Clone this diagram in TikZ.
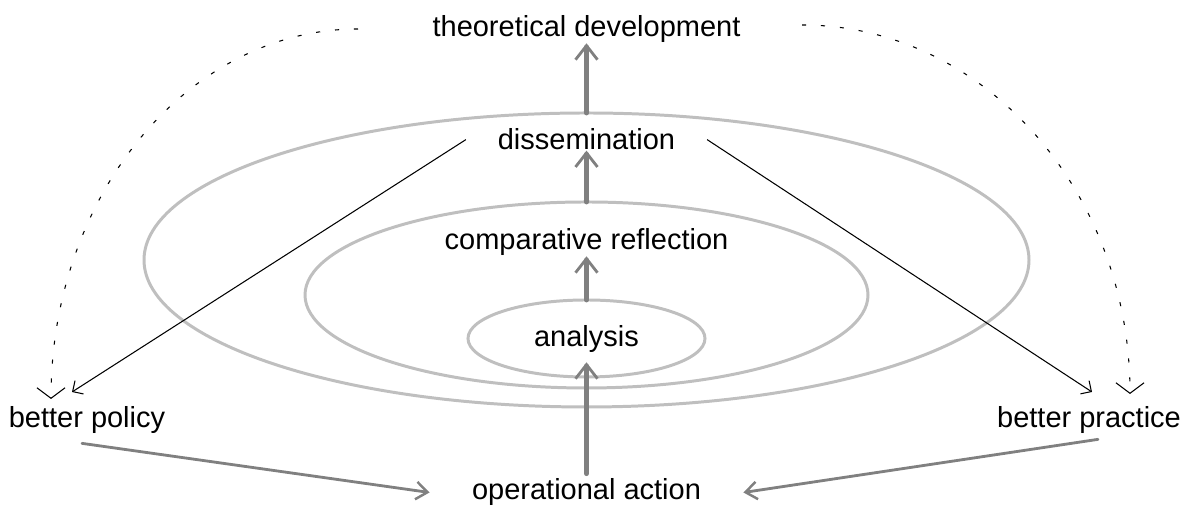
\documentclass[tikz,border=0pt]{standalone}
\usepackage{fontspec}
\setmainfont{Liberation Sans}
\usetikzlibrary{shapes.geometric,arrows.meta}

\begin{document}
\begin{tikzpicture}[
  ring/.style={draw=black!25, line width=1.7pt, ellipse, inner sep=0pt, outer sep=0pt},
  lbl/.style={font=\fontsize{16.5}{20}\selectfont, inner sep=0pt, anchor=base},
  rise/.style={draw=black!50, line width=2.8pt, line cap=round, -{Straight Barb[length=8pt,width=12.5pt,line width=1.6pt]}},
  feed/.style={draw=black!50, line width=1.6pt, line cap=round, -{Straight Barb[length=6.5pt,width=10pt,line width=1.4pt]}},
  spread/.style={line width=0.6pt, -{Straight Barb[length=4.5pt,width=9pt]}},
  hint/.style={line width=0.6pt, dash pattern=on 2.3pt off 8.5pt, -{Straight Barb[length=6pt,width=16pt]}}
]
\useasboundingbox (0,0) rectangle (23.86,10.26);
\node[ring, minimum width=17.7cm, minimum height=5.88cm] (big) at (11.73,5.06) {};
\node[ring, minimum width=11.26cm, minimum height=3.72cm] (mid) at (11.73,4.36) {};
\node[ring, minimum width=4.74cm, minimum height=1.54cm] (small) at (11.73,3.49) {};
\node[lbl] (theo) at (11.73,9.52) {theoretical development};
\node[lbl, inner xsep=18pt] (dissem) at (11.73,7.26) {dissemination};
\node[lbl] (comp) at (11.73,5.26) {comparative reflection};
\node[lbl] (anal) at (11.73,3.32) {analysis};
\node[lbl, inner xsep=24pt] (opact) at (11.73,0.26) {operational action};
\node[lbl] (policy) at (1.74,1.70) {better policy};
\node[lbl] (practice) at (21.78,1.70) {better practice};
\coordinate (polin) at (1.44,2.42);
\coordinate (pracin) at (21.84,2.42);
\coordinate (theoL) at (7.16,9.68);
\coordinate (theoR) at (16.04,9.76);
\coordinate (polup) at (1.02,2.28);
\coordinate (pracup) at (22.6,2.38);
\draw[rise, shorten <=0.1cm] (opact.north) -- ([yshift=-0.18cm]anal.south);
\draw[rise] (small.north) -- (small.north |- comp.south);
\draw[rise] (mid.north) -- (mid.north |- dissem.south);
\draw[rise] (big.north) -- (big.north |- theo.south);
\draw[spread] (dissem.west) -- (polin);
\draw[spread] (dissem.east) -- (pracin);
\draw[hint] (theoL) .. controls (3.77,9.68) and (1.02,6.36) .. (polup);
\draw[hint] (theoR) .. controls (19.66,9.76) and (22.6,6.45) .. (pracup);
\draw[feed] ([shift={(-0.1,-0.18)}]policy.south) -- (opact.west);
\draw[feed] ([shift={(0.18,-0.1)}]practice.south) -- (opact.east);
\end{tikzpicture}
\end{document}
